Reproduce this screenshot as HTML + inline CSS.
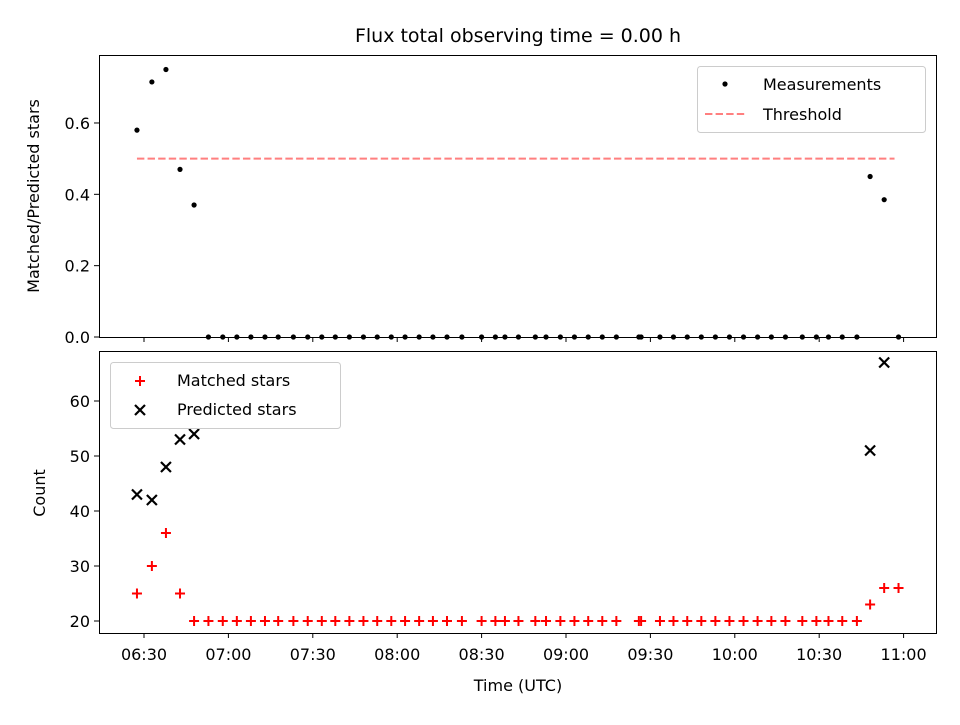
<!DOCTYPE html>
<html><head><meta charset="utf-8"><style>
body{margin:0;background:#fff}
svg{font-family:"DejaVu Sans","Liberation Sans",sans-serif}
</style></head><body>
<svg id="c" width="960" height="720" xmlns="http://www.w3.org/2000/svg"></svg>
<script>
// minutes after 06:00
const ratioTimes=[27.5,32.8,37.8,42.8,47.8,52.9,58,63,68,73,77.7,83.1,88.2,93.2,98,103,108,112.9,117.9,122.8,127.8,132.7,137.7,143,150,154.9,158.3,163.1,169.1,172.9,178,183,187.9,192.9,197.9,205.9,206.7,213.4,218.2,223.1,228.1,233.1,238.1,243.1,248.1,253,258,264,269,273.3,278.2,283.4,288.1,293.1,298.2];
const ratioValues=[0.58,0.715,0.75,0.47,0.37,0,0,0,0,0,0,0,0,0,0,0,0,0,0,0,0,0,0,0,0,0,0,0,0,0,0,0,0,0,0,0,0,0,0,0,0,0,0,0,0,0,0,0,0,0,0,0,0.45,0.385,0];
const matchedValues=[25,30,36,25,20,20,20,20,20,20,20,20,20,20,20,20,20,20,20,20,20,20,20,20,20,20,20,20,20,20,20,20,20,20,20,20,20,20,20,20,20,20,20,20,20,20,20,20,20,20,20,20,23,26,26];
const predTimes=[27.5,32.8,37.8,42.8,47.8,288.1,293.1];
const predValues=[43,42,48,53,54,51,67];
const threshold=0.5;
const xTickMin=[30,60,90,120,150,180,210,240,270,300];
const xTickLabels=["06:30","07:00","07:30","08:00","08:30","09:00","09:30","10:00","10:30","11:00"];
const topTicks=[0,0.2,0.4,0.6];
const topTickLabels=["0.0","0.2","0.4","0.6"];
const botTicks=[20,30,40,50,60];
const botTickLabels=["20","30","40","50","60"];

const NS="http://www.w3.org/2000/svg",svg=document.getElementById('c');
const X=m=>144+(m-30)*2.8133;
const Yt=v=>337-v*356.7;
const Yb=v=>621-(v-20)*5.5;
function el(t,a,txt){const e=document.createElementNS(NS,t);for(const k in a)e.setAttribute(k,a[k]);if(txt!=null)e.textContent=txt;svg.appendChild(e);return e;}
let e=el('rect',{x:99.5,y:55.5,width:837,height:282,fill:'none',stroke:'#000','stroke-width':1});

e=el('rect',{x:99.5,y:351.5,width:837,height:282,fill:'none',stroke:'#000','stroke-width':1});

e=el('text',{x:518,y:42,'font-size':'19','text-anchor':'middle'},'Flux total observing time = 0.00 h');

xTickMin.forEach((m,i)=>{
  const x=X(m);
  e=el('line',{x1:x,x2:x,y1:337,y2:342,stroke:'#000'});
  
  e=el('line',{x1:x,x2:x,y1:633,y2:638,stroke:'#000'});
  
  e=el('text',{x:x,y:660,'font-size':'16','text-anchor':'middle'},xTickLabels[i]);
  
});
topTicks.forEach((v,i)=>{
  const y=Yt(v);
  e=el('line',{x1:94,x2:99,y1:y,y2:y,stroke:'#000'});
  
  e=el('text',{x:90,y:y+6,'font-size':'16','text-anchor':'end'},topTickLabels[i]);
  
});
botTicks.forEach((v,i)=>{
  const y=Yb(v);
  e=el('line',{x1:94,x2:99,y1:y,y2:y,stroke:'#000'});
  
  e=el('text',{x:90,y:y+6,'font-size':'16','text-anchor':'end'},botTickLabels[i]);
  
});
e=el('text',{x:0,y:0,'font-size':'16','text-anchor':'middle',transform:'translate(39,196) rotate(-90)'},'Matched/Predicted stars');

e=el('text',{x:0,y:0,'font-size':'16','text-anchor':'middle',transform:'translate(45,493) rotate(-90)'},'Count');

e=el('text',{x:518,y:691,'font-size':'16','text-anchor':'middle'},'Time (UTC)');

e=el('line',{x1:X(ratioTimes[0]),x2:X(ratioTimes[ratioTimes.length-1])-4,y1:Yt(threshold),y2:Yt(threshold),stroke:'#ff7f7f','stroke-width':2,'stroke-dasharray':'7.4,3.2'});

ratioTimes.forEach((t,i)=>{
  e=el('circle',{cx:X(t),cy:Yt(ratioValues[i]),r:2.6,fill:'#000'});
  
});
function plus(x,y,c,name){e=el('path',{d:`M${x-5},${y}H${x+5}M${x},${y-5}V${y+5}`,stroke:c,'stroke-width':2});}
function cross(x,y,c,name){e=el('path',{d:`M${x-5},${y-5}L${x+5},${y+5}M${x-5},${y+5}L${x+5},${y-5}`,stroke:c,'stroke-width':2.2});}
ratioTimes.forEach((t,i)=>plus(X(t),Yb(matchedValues[i]),'#f00','matched-star-point'));
predTimes.forEach((t,i)=>cross(X(t),Yb(predValues[i]),'#000','predicted-star-point'));
e=el('rect',{x:697.5,y:66.5,width:228,height:66,rx:3,fill:'#fff','fill-opacity':0.8,stroke:'#ccc'});

e=el('circle',{cx:725,cy:84,r:2.6,fill:'#000'});
e=el('text',{x:763,y:90,'font-size':'16'},'Measurements');
e=el('line',{x1:705,x2:745,y1:114,y2:114,stroke:'#ff7f7f','stroke-width':2,'stroke-dasharray':'7.4,3.2'});
e=el('text',{x:763,y:120,'font-size':'16'},'Threshold');
e=el('rect',{x:110.5,y:362.5,width:230,height:66,rx:3,fill:'#fff','fill-opacity':0.8,stroke:'#ccc'});

plus(140,381,'#f00','legend-matched-marker');
e=el('text',{x:177,y:386,'font-size':'16'},'Matched stars');
cross(140,410,'#000','legend-predicted-marker');
e=el('text',{x:177,y:415,'font-size':'16'},'Predicted stars');
</script>
</body></html>
